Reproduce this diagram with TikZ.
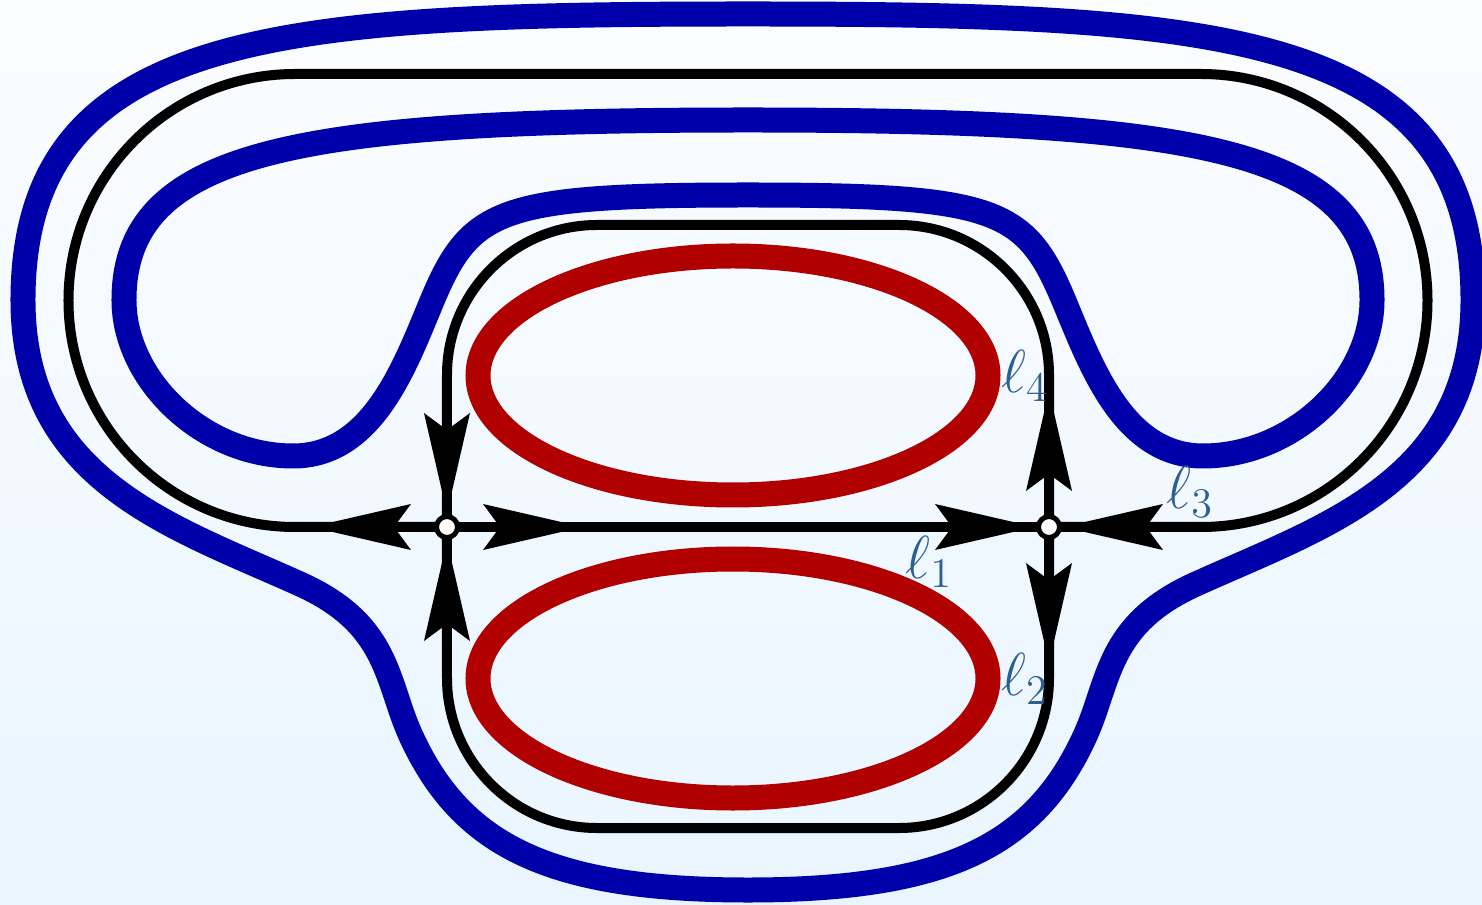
\documentclass[tikz,border=0pt]{standalone}
\usepackage{amsmath}
\usetikzlibrary{arrows.meta,positioning,shapes.geometric,calc,decorations.markings}
\definecolor{loopblue}{RGB}{0,0,170}
\definecolor{ovalred}{RGB}{176,0,0}
\definecolor{labelblue}{RGB}{45,95,145}
\definecolor{bgtop}{RGB}{251,253,255}
\definecolor{bgbottom}{RGB}{233,245,255}
\pgfdeclarelayer{back}
\pgfdeclarelayer{edges}
\pgfsetlayers{back,edges,main}

\begin{document}
\begin{tikzpicture}[
    vertex/.style={draw, circle, fill=white, line width=0.5mm, minimum size=2.1mm, inner sep=0pt},
    oval/.style={draw=ovalred, ellipse, line width=2.5mm, minimum width=5.1cm, minimum height=2.39cm, inner sep=0pt},
    contour/.style={draw=loopblue, line width=2.5mm},
    lbl/.style={text=labelblue, font=\LARGE, inner sep=0pt},
    bigtip/.tip={Stealth[length=10mm, width=4.6mm, inset=1.7mm, line width=0pt]},
    flow/.style={line width=1mm, postaction={decorate}, decoration={markings,
        mark=at position 1.36cm with {\arrow{bigtip}},
        mark=at position -0.14cm with {\arrow{bigtip}}}},
  ]
    \useasboundingbox (-7.48,-3.77) rectangle (7.34,5.27);

    \begin{pgfonlayer}{back}
      % Background
      \shade[top color=bgtop, bottom color=bgbottom] (-7.48,-3.77) rectangle (7.34,5.27);

      % Blue contours
      \draw[contour] (0,5.13)
        .. controls (-4.68,5.13) and (-7.25,4.97) .. (-7.25,2.27)
        .. controls (-7.25,0.47) and (-5.78,0.015) .. (-4.48,-0.57)
        .. controls (-3.58,-0.975) and (-3.62,-1.545) .. (-3.37,-2.09)
        .. controls (-2.87,-3.18) and (-2.00,-3.63) .. (0,-3.63)
        .. controls (2.00,-3.63) and (2.87,-3.18) .. (3.37,-2.09)
        .. controls (3.62,-1.545) and (3.58,-0.975) .. (4.48,-0.57)
        .. controls (5.78,0.015) and (7.25,0.47) .. (7.25,2.27)
        .. controls (7.25,4.97) and (4.68,5.13) .. (0,5.13) -- cycle;
      \draw[contour] (0,4.07)
        .. controls (-4.50,4.07) and (-6.24,3.77) .. (-6.24,2.27)
        .. controls (-6.24,1.47) and (-5.45,0.71) .. (-4.55,0.71)
        .. controls (-3.75,0.71) and (-3.43,1.615) .. (-3.16,2.26)
        .. controls (-2.773,3.182) and (-2.50,3.32) .. (0,3.32)
        .. controls (2.50,3.32) and (2.773,3.182) .. (3.16,2.26)
        .. controls (3.43,1.615) and (3.75,0.71) .. (4.55,0.71)
        .. controls (5.45,0.71) and (6.24,1.47) .. (6.24,2.27)
        .. controls (6.24,3.77) and (4.50,4.07) .. (0,4.07) -- cycle;
    \end{pgfonlayer}

    % Nodes
    \node[oval] (e4) at (-0.15,1.515) {};
    \node[oval] (e2) at (-0.15,-1.515) {};
    \node[vertex] (v1) at (-3.01,0) {};
    \node[vertex] (v2) at (3.01,0) {};

    % Edges
    \begin{pgfonlayer}{edges}
      \draw[flow] (v1.center) -- (v2.center);
      \draw[flow] (v1.center) -- (-4.53,0) arc[start angle=270, end angle=90, radius=2.265]
        -- (4.53,4.53) arc[start angle=90, end angle=-90, radius=2.265] -- (v2.center);
      \draw[flow] (v2.center) -- (3.01,1.52) arc[start angle=0, end angle=90, radius=1.5]
        -- (-1.51,3.02) arc[start angle=90, end angle=180, radius=1.5] -- (v1.center);
      \draw[flow] (v2.center) -- (3.01,-1.51) arc[start angle=0, end angle=-90, radius=1.5]
        -- (-1.51,-3.01) arc[start angle=-90, end angle=-180, radius=1.5] -- (v1.center);
    \end{pgfonlayer}

    % Labels
    \node[lbl, anchor=west] (t4) at (e4.east) {$\ell_4$};
    \node[lbl, anchor=west] (t2) at (e2.east) {$\ell_2$};
    \node[lbl] (t1) at (1.81,-0.35) {$\ell_1$};
    \node[lbl] (t3) at (4.42,0.35) {$\ell_3$};
  \end{tikzpicture}
\end{document}
